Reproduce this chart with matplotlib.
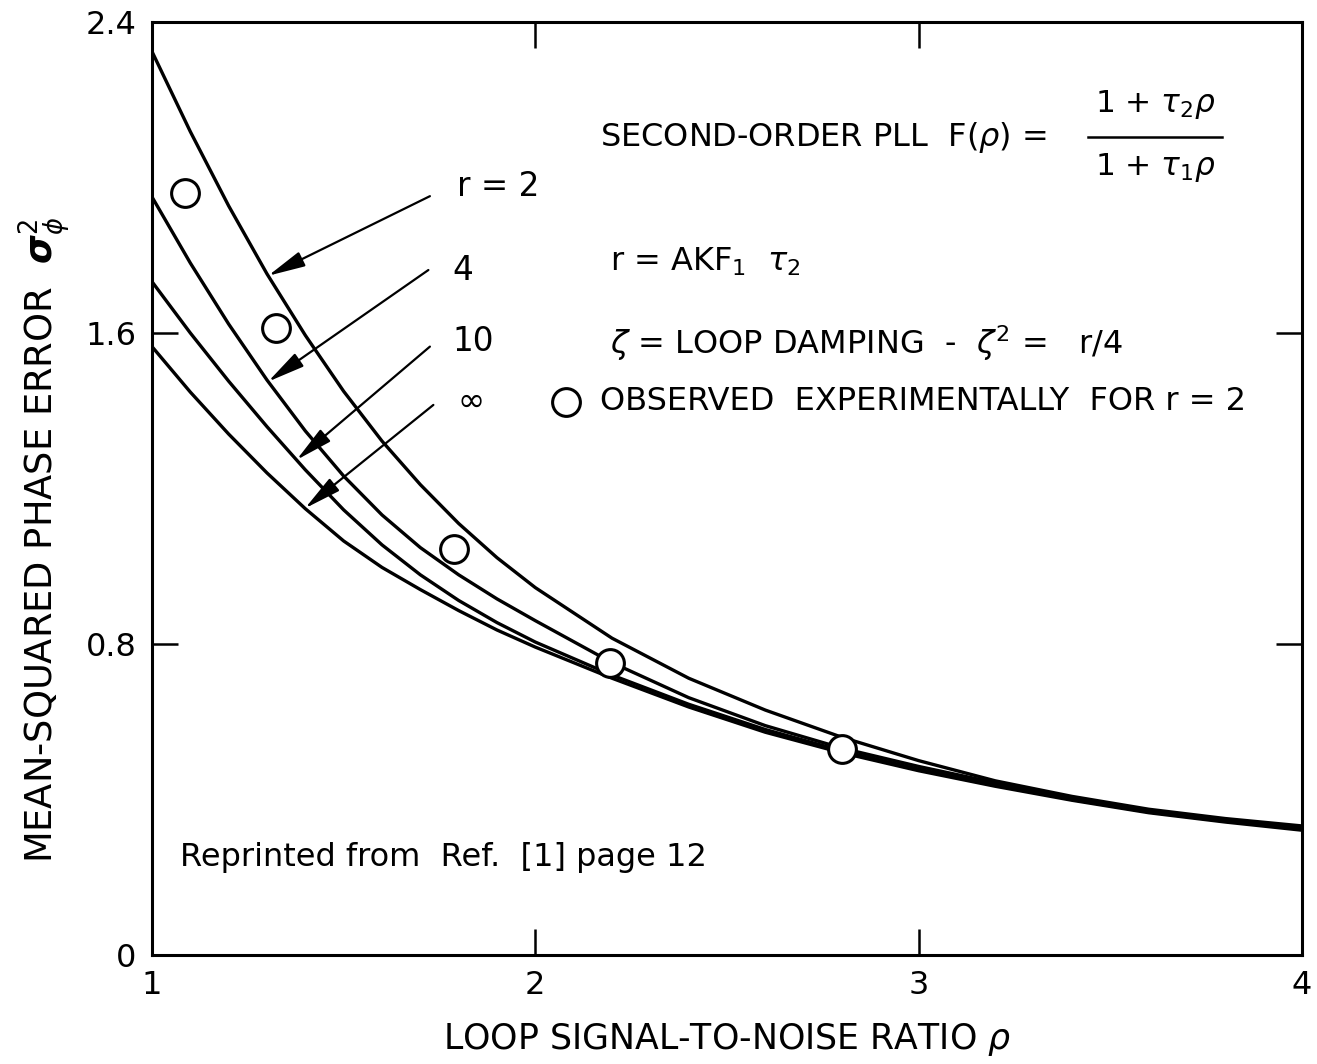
import numpy as np
import matplotlib
matplotlib.use("Agg")
import matplotlib.pyplot as plt
from matplotlib.lines import Line2D

plt.rcParams['font.family'] = ['DejaVu Sans']
plt.rcParams['mathtext.fontset'] = 'dejavusans'

# Loop signal-to-noise ratio (rho) at which each curve is sampled
rho = [1.0, 1.1, 1.2, 1.3, 1.4, 1.5, 1.6, 1.7, 1.8, 1.9, 2.0,
       2.2, 2.4, 2.6, 2.8, 3.0, 3.2, 3.4, 3.6, 3.8, 4.0]

# Mean-squared phase error for the second-order PLL, per value of r
var_r2 = [2.324, 2.118, 1.927, 1.752, 1.594, 1.450, 1.322, 1.210, 1.110, 1.022, 0.945,
          0.815, 0.712, 0.630, 0.560, 0.500, 0.448, 0.408, 0.375, 0.351, 0.332]
var_r4 = [1.950, 1.780, 1.623, 1.479, 1.348, 1.232, 1.132, 1.048, 0.978, 0.916, 0.860,
          0.752, 0.662, 0.590, 0.532, 0.485, 0.443, 0.404, 0.372, 0.347, 0.327]
var_r10 = [1.732, 1.600, 1.476, 1.359, 1.248, 1.145, 1.055, 0.978, 0.912, 0.855, 0.805,
           0.720, 0.645, 0.580, 0.525, 0.478, 0.437, 0.400, 0.368, 0.344, 0.324]
var_inf = [1.565, 1.448, 1.340, 1.240, 1.148, 1.065, 0.997, 0.940, 0.886, 0.836, 0.792,
           0.712, 0.638, 0.573, 0.520, 0.474, 0.434, 0.398, 0.366, 0.342, 0.321]

# Experimental observations for r = 2
obs_rho = [1.086, 1.324, 1.789, 2.195, 2.800]
obs_var = [1.960, 1.612, 1.044, 0.750, 0.529]

x_ticks = [1, 2, 3, 4]
y_ticks = [0, 0.8, 1.6, 2.4]
y_tick_labels = ["0", "0.8", "1.6", "2.4"]

curves = [("r = 2", var_r2), ("4", var_r4), ("10", var_r10), ("\u221e", var_inf)]

fig = plt.figure(figsize=(13.17, 10.64), dpi=100)
ax = fig.add_axes([152 / 1317, 1 - 955 / 1064, 1150 / 1317, 933 / 1064])

for _, vals in curves:
    ax.plot(rho, vals, color="black", lw=2.4, solid_capstyle="round",
            solid_joinstyle="round", zorder=3)

ax.plot(obs_rho, obs_var, linestyle="none", marker="o", ms=20, mew=2.2,
        mfc="white", mec="black", zorder=5)

ax.set_xlim(1, 4)
ax.set_ylim(0, 2.4)
ax.set_xticks(x_ticks)
ax.set_xticklabels([str(v) for v in x_ticks])
ax.set_yticks(y_ticks)
ax.set_yticklabels(y_tick_labels)
ax.tick_params(axis="both", which="major", direction="in", length=19, width=1.8,
               top=True, right=True, labelsize=23)
ax.tick_params(axis="x", pad=11)
ax.tick_params(axis="y", pad=11)
for sp in ax.spines.values():
    sp.set_linewidth(2.2)

ax.set_xlabel(r"LOOP SIGNAL-TO-NOISE RATIO $\rho$", fontsize=25)
ax.xaxis.set_label_coords(0.5, -0.091)
ax.xaxis.label.set_va("center")
ax.set_ylabel(r"MEAN-SQUARED PHASE ERROR  $\boldsymbol{\sigma}_{\phi}^{2}$", fontsize=26.5)
ax.yaxis.set_label_coords(-0.093, 0.445)
ax.yaxis.label.set_va("center")

# Curve labels with arrows pointing to each curve
arrow_specs = [
    (var_r2, 1.303, (1.725, 1.952), (1.796, 1.976)),
    (var_r4, 1.303, (1.721, 1.762), (1.783, 1.762)),
    (var_r10, 1.377, (1.725, 1.565), (1.785, 1.577)),
    (var_inf, 1.399, (1.734, 1.415), (1.798, 1.423)),
]
for (label, _), (vals, x_tip, tail, lab_pos) in zip(curves, arrow_specs):
    y_tip = float(np.interp(x_tip, rho, vals))
    ax.annotate("", xy=(x_tip, y_tip), xytext=tail,
                arrowprops=dict(arrowstyle="-|>,head_length=0.95,head_width=0.2",
                                mutation_scale=24, lw=1.6, color="black",
                                shrinkA=0, shrinkB=0), zorder=4)
    ax.text(lab_pos[0], lab_pos[1], label, fontsize=23.5, ha="left", va="center")

# Transfer function block
ax.text(2.169, 2.104, r"SECOND-ORDER PLL  F($\rho$) =", fontsize=23, ha="left", va="center")
ax.text(3.617, 2.187, r"1 + $\tau_{2}\rho$", fontsize=22.5, ha="center", va="center")
ax.text(3.617, 2.025, r"1 + $\tau_{1}\rho$", fontsize=22.5, ha="center", va="center")
ax.add_line(Line2D([3.442, 3.791], [2.104, 2.104], color="black", lw=1.8))

ax.text(2.195, 1.783, r"r = AKF$_{1}$  $\tau_{2}$", fontsize=23, ha="left", va="center")
ax.text(2.195, 1.575, r"$\zeta$ = LOOP DAMPING  -  $\zeta^{2}$ =   r/4", fontsize=23,
        ha="left", va="center")
ax.plot([2.08], [1.423], linestyle="none", marker="o", ms=20, mew=2.2,
        mfc="white", mec="black")
ax.text(2.169, 1.423, "OBSERVED  EXPERIMENTALLY  FOR r = 2", fontsize=23,
        ha="left", va="center")

ax.text(1.073, 0.252, "Reprinted from  Ref.  [1] page 12", fontsize=23,
        ha="left", va="center")

fig.savefig("out.png", dpi=100)
